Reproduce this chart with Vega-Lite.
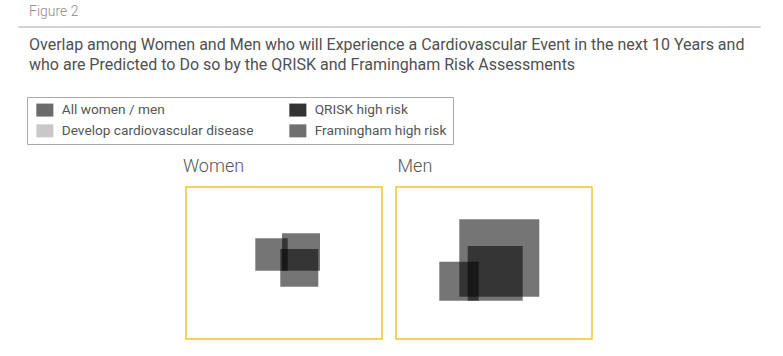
{
  "$schema": "https://vega.github.io/schema/vega-lite/v6.json",
  "background": "white",
  "padding": {"left": 17, "top": 4, "right": 5, "bottom": 5},
  "bounds": "flush",
  "spacing": 160,
  "config": {
    "view": {"stroke": null},
    "font": "Roboto",
    "title": {"baseline": "alphabetic", "anchor": "start", "font": "Roboto"},
    "legend": {"strokeColor": "#aaaaaa", "fillColor": "white"}
  },
  "datasets": {
    "squares": [
      {"sex": "Women", "set": "Develop cardiovascular disease", "x1": 69.3, "x2": 101.7, "y1": 68.3, "y2": 100.7},
      {"sex": "Women", "set": "Framingham high risk", "x1": 96, "x2": 134, "y1": 68.3, "y2": 105.7},
      {"sex": "Women", "set": "QRISK high risk", "x1": 94.3, "x2": 132.3, "y1": 52.3, "y2": 90},
      {"sex": "Men", "set": "Framingham high risk", "x1": 63.3, "x2": 143.3, "y1": 42.3, "y2": 119.7},
      {"sex": "Men", "set": "QRISK high risk", "x1": 71.7, "x2": 126.7, "y1": 38.3, "y2": 93},
      {"sex": "Men", "set": "Develop cardiovascular disease", "x1": 43.3, "x2": 82.7, "y1": 38.3, "y2": 77.3}
    ],
    "legendItems": [
      {"item": "All women / men"},
      {"item": "Develop cardiovascular disease"},
      {"item": "QRISK high risk"},
      {"item": "Framingham high risk"}
    ]
  },
  "vconcat": [
    {
      "title": {"text": "Figure 2", "dx": 11, "fontSize": 14, "fontWeight": 300, "color": "#8c8c8c", "offset": 7.5},
      "width": 742,
      "height": 1,
      "view": {"stroke": "#d2d2d2", "strokeWidth": 1},
      "data": {"values": []},
      "mark": "text"
    },
    {
      "title": {
        "text": ["Overlap among Women and Men who will Experience a Cardiovascular Event in the next 10 Years and", "who are Predicted to Do so by the QRISK and Framingham Risk Assessments"],
        "dx": 11, "fontSize": 16, "fontWeight": 400, "color": "#505050", "lineHeight": 20, "offset": 84
      },
      "spacing": 14,
      "bounds": "flush",
      "hconcat": [
        {
          "width": 154,
          "height": 152,
          "data": {"values": []},
          "mark": "text"
        },
        {
          "title": {"text": "Women", "dx": -3, "fontSize": 18, "fontWeight": 300, "color": "#555555", "offset": 11},
          "width": 196,
          "height": 152,
          "view": {"stroke": "#f3c231", "strokeWidth": 1.5},
          "layer": [
            {
              "data": {"name": "squares"},
              "transform": [{"filter": "datum.sex === 'Women'"}],
              "mark": {"type": "rect", "color": "black", "opacity": 0.54},
              "encoding": {
                "x": {"field": "x1", "type": "quantitative", "scale": {"domain": [0, 196], "nice": false, "zero": false}, "axis": null},
                "x2": {"field": "x2"},
                "y": {"field": "y1", "type": "quantitative", "scale": {"domain": [0, 152], "nice": false, "zero": false}, "axis": null},
                "y2": {"field": "y2"}
              }
            },
            {
              "data": {"name": "legendItems"},
              "mark": {"type": "square", "opacity": 0},
              "encoding": {
                "color": {
                  "field": "item", "type": "nominal",
                  "scale": {"domain": ["All women / men", "Develop cardiovascular disease", "QRISK high risk", "Framingham high risk"], "range": ["#6b6b6b", "#c8c8c8", "#333333", "#707070"]},
                  "legend": {
                    "title": null, "orient": "none", "legendX": 9, "legendY": 71, "columns": 2,
                    "symbolType": "M-0.54,-1H2.08V1H-0.54Z", "symbolSize": 169, "symbolOpacity": 1, "symbolStrokeWidth": 0,
                    "labelFontSize": 13.7, "labelColor": "#555555", "labelFont": "Roboto", "labelOffset": 15, "labelLimit": 0,
                    "columnPadding": 32, "rowPadding": 6, "padding": 6,
                    "strokeColor": "#aaaaaa", "fillColor": "white"
                  }
                }
              }
            }
          ]
        },
        {
          "title": {"text": "Men", "dx": 1.5, "fontSize": 18, "fontWeight": 300, "color": "#555555", "offset": 11},
          "width": 196,
          "height": 152,
          "view": {"stroke": "#f3c231", "strokeWidth": 1.5},
          "data": {"name": "squares"},
          "transform": [{"filter": "datum.sex === 'Men'"}],
          "mark": {"type": "rect", "color": "black", "opacity": 0.54},
          "encoding": {
            "x": {"field": "x1", "type": "quantitative", "scale": {"domain": [0, 196], "nice": false, "zero": false}, "axis": null},
            "x2": {"field": "x2"},
            "y": {"field": "y1", "type": "quantitative", "scale": {"domain": [0, 152], "nice": false, "zero": false}, "axis": null},
            "y2": {"field": "y2"}
          }
        }
      ]
    }
  ]
}
